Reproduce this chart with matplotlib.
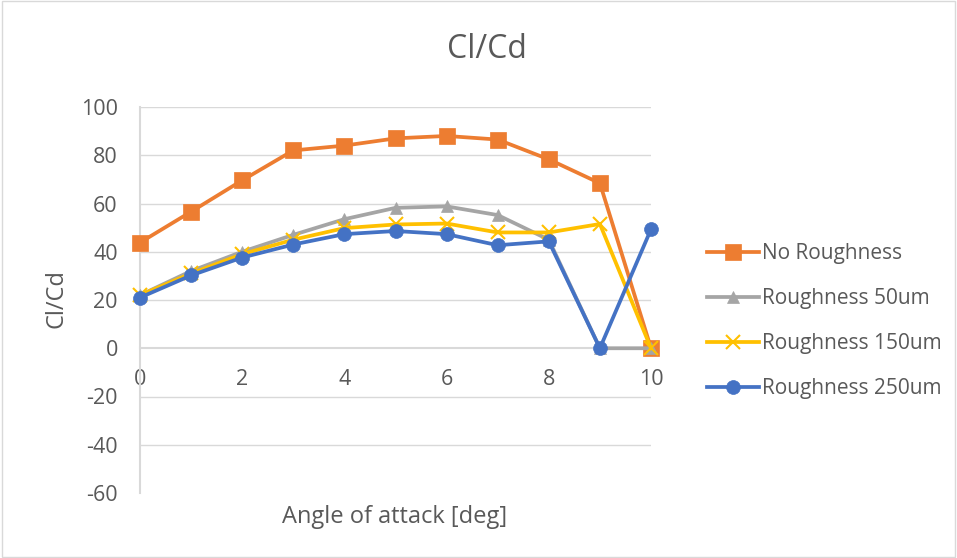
import numpy
import matplotlib.pyplot as plt

plt.rcParams['font.family'] = ['Open Sans', 'DejaVu Sans']
plt.rcParams['axes.unicode_minus'] = False

# Data
angles = [0, 1, 2, 3, 4, 5, 6, 7, 8, 9, 10]
no_rough = [43.8, 56.6, 69.6, 82.0, 84.0, 87.0, 88.0, 86.5, 78.3, 68.4, 0.0]
rough_50 = [22.0, 32.0, 40.0, 47.0, 53.5, 58.2, 58.8, 55.2, 45.0, 0.0, 0.0]
rough_150 = [22.0, 31.0, 39.0, 45.0, 49.8, 51.3, 51.7, 48.0, 48.0, 51.5, 0.0]
rough_250 = [21.0, 30.2, 37.6, 43.0, 47.3, 48.6, 47.3, 42.7, 44.3, 0.0, 49.3]

labels = ["No Roughness", "Roughness 50um", "Roughness 150um", "Roughness 250um"]
series = [no_rough, rough_50, rough_150, rough_250]
colors = ["#ED7D31", "#A5A5A5", "#FFC000", "#4472C4"]
markers = ["s", "^", "x", "o"]
msizes = [12, 9, 10, 10]

textcol = "#595959"
gridcol = "#D9D9D9"

fig = plt.figure(figsize=(9.57, 5.58), dpi=100)
ax = fig.add_axes([140 / 957, 1 - 493 / 558, (651 - 140) / 957, (493 - 107) / 558])

for ys, lab, c, m, ms in zip(series, labels, colors, markers, msizes):
    ax.plot(angles, ys, color=c, lw=2.7, marker=m, markersize=ms,
            markeredgewidth=1.5 if m == "x" else 0.5, markeredgecolor=c,
            markerfacecolor=c, label=lab, zorder=3, clip_on=False)

ax.set_xlim(0, 10)
ax.set_ylim(-60, 100)
ax.set_yticks(numpy.arange(-60, 101, 20))
ax.set_xticks([0, 2, 4, 6, 8, 10])
for y in numpy.arange(-40, 101, 20):
    if y != 0:
        ax.axhline(y, color=gridcol, lw=1, zorder=1)

for s in ["top", "right"]:
    ax.spines[s].set_visible(False)
ax.spines["bottom"].set_position(('data', 0))
for s in ["left", "bottom"]:
    ax.spines[s].set_color(gridcol)
    ax.spines[s].set_linewidth(1.5)
ax.tick_params(axis='both', length=0, labelsize=15.5, colors=textcol)
ax.tick_params(axis='x', pad=15)
ax.tick_params(axis='y', pad=16)

fig.text(487 / 957, 1 - 50 / 558, "Cl/Cd", fontsize=23, color=textcol,
         ha='center', va='center')
fig.text(57 / 957, 1 - 299 / 558, "Cl/Cd", fontsize=17, color=textcol,
         ha='center', va='center', rotation=90)
fig.text(395 / 957, 1 - 517 / 558, "Angle of attack [deg]", fontsize=17,
         color=textcol, ha='center', va='center')

ax.legend(loc='center left', bbox_to_anchor=(1.073, 0.445), frameon=False,
          fontsize=15, labelcolor=textcol, handlelength=2.5, handletextpad=0.15,
          labelspacing=1.15)

border = plt.Rectangle((0.002, 0.002), 0.996, 0.996, transform=fig.transFigure,
                       fill=False, edgecolor=gridcol, lw=1)
fig.patches.append(border)

plt.savefig("out.png", dpi=100)
